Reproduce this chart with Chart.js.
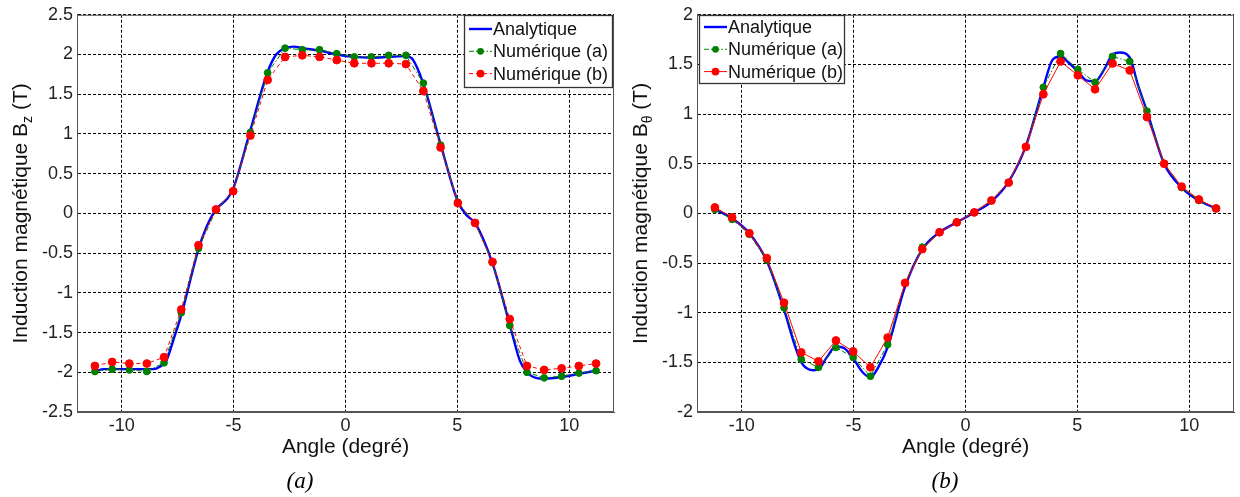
<!DOCTYPE html>
<html lang="fr">
<head>
<meta charset="utf-8">
<title>Induction magnétique</title>
<script src="https://cdn.jsdelivr.net/npm/chart.js@4.4.1/dist/chart.umd.min.js"></script>
<style>
  body { margin: 0; background: #fff; }
  #page { position: relative; width: 1240px; height: 497px; }
  canvas { position: absolute; top: 0; }
  .sous-titre {
    position: absolute; top: 467px; width: 60px; text-align: center;
    font: italic 23px "Liberation Serif", "Times New Roman", serif;
    line-height: 28px; color: #000;
  }
</style>
</head>
<body>
<div id="page">
  <canvas id="grapheA" width="620" height="497" style="left:0"></canvas>
  <canvas id="grapheB" width="620" height="497" style="left:620px"></canvas>
  <div class="sous-titre" style="left:270px">(a)</div>
  <div class="sous-titre" style="left:915px">(b)</div>
</div>
<script>
// angles des points numériques (degré)
const angles = [-11.2, -10.43, -9.66, -8.88, -8.11, -7.34, -6.57, -5.79, -5.02, -4.25, -3.48, -2.70, -1.93, -1.16, -0.39,
  0.39, 1.16, 1.93, 2.70, 3.48, 4.25, 5.02, 5.79, 6.57, 7.34, 8.11, 8.88, 9.66, 10.43, 11.2];
const xTicks = [-10, -5, 0, 5, 10];

// (a) composante Bz
const bzAnaAngles = [-11.2, -10.8, -8.6, -8.3, -8.0, -7.7, -7.34, -6.57, -6.2, -5.79, -5.3, -5.02, -4.25, -3.48, -3.1,
  -2.7, -2.3, -1.93, -1.16, -0.39, 0.39, 1.16, 1.93, 2.7, 3.0, 3.48, 4.25, 5.02, 5.4, 5.79, 6.57, 7.34, 7.8, 8.11, 8.5,
  8.88, 9.66, 10.43, 11.2];
const bzAna = [-1.99, -1.96, -1.96, -1.93, -1.85, -1.60, -1.28, -0.45, -0.16, 0.05, 0.18, 0.31, 1.05, 1.78, 2.00,
  2.08, 2.10, 2.08, 2.05, 2.00, 1.97, 1.96, 1.97, 1.98, 1.94, 1.63, 0.87, 0.15, -0.02, -0.12, -0.63, -1.40, -1.86, -2.00, -2.07,
  -2.08, -2.06, -2.02, -1.98];
const bzNumA = [-1.99, -1.96, -1.97, -1.99, -1.88, -1.25, -0.44, 0.04, 0.28, 1.02, 1.77, 2.08, 2.06, 2.06, 2.01,
  1.97, 1.97, 1.99, 1.99, 1.64, 0.86, 0.14, -0.12, -0.62, -1.41, -2.00, -2.07, -2.05, -2.01, -1.98];
const bzNumB = [-1.92, -1.87, -1.89, -1.89, -1.81, -1.21, -0.40, 0.05, 0.28, 0.98, 1.68, 1.97, 1.99, 1.97, 1.93,
  1.89, 1.89, 1.89, 1.88, 1.54, 0.83, 0.13, -0.12, -0.61, -1.33, -1.92, -1.97, -1.95, -1.92, -1.89];
const yTicksA = [-2.5, -2, -1.5, -1, -0.5, 0, 0.5, 1, 1.5, 2, 2.5];

// (b) composante Btheta
const btAnaAngles = [-11.2, -10.43, -9.66, -8.88, -8.11, -7.6, -7.34, -6.8, -6.57, -6.2, -5.8, -5.4, -5.02, -4.6, -4.25,
  -3.9, -3.48, -2.72, -1.93, -1.16, -0.39, 0.39, 1.16, 1.93, 2.70, 3.48, 3.9, 4.25, 4.6, 5.02, 5.4, 5.79, 6.2, 6.57, 6.9,
  7.34, 7.7, 8.11, 8.88, 9.66, 10.43, 11.2];
const btAna = [0.04, -0.05, -0.20, -0.48, -0.97, -1.35, -1.50, -1.58, -1.57, -1.45, -1.34, -1.36, -1.46, -1.60, -1.65,
  -1.55, -1.35, -0.75, -0.36, -0.19, -0.09, 0.01, 0.12, 0.32, 0.68, 1.27, 1.55, 1.58, 1.52, 1.43, 1.34, 1.33, 1.45, 1.60, 1.62,
  1.57, 1.30, 1.03, 0.50, 0.26, 0.13, 0.05];
const btNumA = [0.04, -0.06, -0.21, -0.47, -0.95, -1.47, -1.55, -1.35, -1.45, -1.64, -1.32, -0.70, -0.34, -0.19, -0.09,
  0.01, 0.13, 0.31, 0.67, 1.27, 1.61, 1.45, 1.32, 1.58, 1.53, 1.03, 0.50, 0.26, 0.13, 0.05];
const btNumB = [0.06, -0.04, -0.20, -0.45, -0.90, -1.40, -1.49, -1.28, -1.39, -1.55, -1.25, -0.70, -0.36, -0.19, -0.09,
  0.01, 0.13, 0.31, 0.67, 1.20, 1.53, 1.39, 1.25, 1.51, 1.44, 0.97, 0.50, 0.27, 0.14, 0.05];
const yTicksB = [-2, -1.5, -1, -0.5, 0, 0.5, 1, 1.5, 2];

const POLICE = '"Liberation Sans", Arial, sans-serif';
const paires = (xs, ys) => xs.map((x, i) => ({ x: x, y: ys[i] }));

// cadre, titres d'axes (avec indice) et légende dans la zone du tracé
const cadre = {
  id: 'cadre',
  afterDraw(chart, args, opts) {
    const ctx = chart.ctx;
    const a = chart.chartArea;
    ctx.save();
    ctx.strokeStyle = '#555';
    ctx.lineWidth = 1;
    ctx.strokeRect(a.left + 0.5, a.top + 0.5, a.width - 1, a.height - 1);

    ctx.fillStyle = '#111';
    ctx.font = '21px ' + POLICE;
    ctx.textAlign = 'center';
    ctx.textBaseline = 'alphabetic';
    ctx.fillText('Angle (degré)', (a.left + a.right) / 2, 453);

    // titre vertical : Induction magnétique B_x (T)
    const debut = 'Induction magnétique B';
    const fin = ' (T)';
    ctx.font = '21px ' + POLICE;
    const l1 = ctx.measureText(debut).width;
    const l3 = ctx.measureText(fin).width;
    ctx.font = '14px ' + POLICE;
    const l2 = ctx.measureText(opts.indice).width;
    ctx.translate(27, (a.top + a.bottom) / 2);
    ctx.rotate(-Math.PI / 2);
    ctx.textAlign = 'left';
    let x = -(l1 + l2 + l3) / 2;
    ctx.font = '21px ' + POLICE;
    ctx.fillText(debut, x, 0);
    x += l1;
    ctx.font = '14px ' + POLICE;
    ctx.fillText(opts.indice, x, 5);
    x += l2;
    ctx.font = '21px ' + POLICE;
    ctx.fillText(fin, x, 0);
    ctx.restore();

    // légende
    const L = opts.legende;
    ctx.save();
    ctx.fillStyle = '#fff';
    ctx.fillRect(L.x, L.y, L.w, L.h);
    ctx.strokeStyle = '#333';
    ctx.lineWidth = 1.3;
    ctx.strokeRect(L.x + 0.5, L.y + 0.5, L.w, L.h);
    ctx.font = '18px ' + POLICE;
    ctx.textBaseline = 'middle';
    ctx.textAlign = 'left';
    chart.data.datasets.forEach((ds, i) => {
      const y = L.y + L.pas0 + i * 22.3;
      ctx.strokeStyle = ds.borderColor;
      ctx.lineWidth = ds.borderWidth;
      ctx.setLineDash(ds.borderDash || []);
      ctx.beginPath();
      ctx.moveTo(L.x + 5, y);
      ctx.lineTo(L.x + 28, y);
      ctx.stroke();
      ctx.setLineDash([]);
      if (ds.pointRadius > 0) {
        ctx.fillStyle = ds.pointBackgroundColor;
        ctx.beginPath();
        ctx.arc(L.x + 16.5, y, ds.pointRadius, 0, Math.PI * 2);
        ctx.fill();
      }
      ctx.fillStyle = '#111';
      ctx.fillText(ds.label, L.x + 29, y + 1);
    });
    ctx.restore();
  }
};

function creerGraphe(id, anaX, anaY, numA, numB, yTicks, indice, legende, rougeTirets) {
  new Chart(document.getElementById(id), {
    type: 'scatter',
    data: {
      datasets: [
        {
          label: 'Analytique',
          data: paires(anaX, anaY),
          showLine: true,
          borderColor: '#0000ff',
          borderWidth: 2.4,
          cubicInterpolationMode: 'monotone',
          pointRadius: 0,
          order: 3
        },
        {
          label: 'Numérique (a)',
          data: paires(angles, numA),
          showLine: true,
          borderColor: '#008000',
          borderWidth: 1,
          borderDash: [5, 2, 1.5, 2],
          pointRadius: 3.4,
          pointBackgroundColor: '#008000',
          pointBorderColor: '#008000',
          order: 2
        },
        {
          label: 'Numérique (b)',
          data: paires(angles, numB),
          showLine: true,
          borderColor: '#ff0000',
          borderWidth: 1,
          borderDash: rougeTirets ? [4, 3] : [],
          pointRadius: 3.9,
          pointBackgroundColor: '#ff0000',
          pointBorderColor: '#ff0000',
          order: 1
        }
      ]
    },
    options: {
      responsive: false,
      animation: false,
      layout: { padding: { left: 0, top: 13, right: 6, bottom: 0 } },
      plugins: {
        legend: { display: false },
        tooltip: { enabled: false },
        cadre: { indice: indice, legende: legende }
      },
      scales: {
        x: {
          type: 'linear',
          min: -12,
          max: 12,
          afterBuildTicks: s => { s.ticks = xTicks.map(v => ({ value: v })); },
          afterFit: s => { s.height = 85; },
          grid: { color: '#000', lineWidth: 1, drawTicks: false },
          border: { display: true, color: '#555', dash: [3, 2] },
          ticks: {
            padding: 3,
            color: '#222',
            font: { family: POLICE, size: 18 },
            callback: v => String(v)
          }
        },
        y: {
          min: yTicks[0],
          max: yTicks[yTicks.length - 1],
          afterBuildTicks: s => { s.ticks = yTicks.map(v => ({ value: v })); },
          afterFit: s => { s.width = 77; },
          grid: { color: '#000', lineWidth: 1, drawTicks: false },
          border: { display: true, color: '#555', dash: [3, 2] },
          ticks: {
            padding: 4,
            color: '#222',
            font: { family: POLICE, size: 18 },
            callback: v => String(v)
          }
        }
      }
    },
    plugins: [cadre]
  });
}

creerGraphe('grapheA', bzAnaAngles, bzAna, bzNumA, bzNumB, yTicksA, 'z',
  { x: 464, y: 15, w: 148, h: 72, pas0: 14 }, true);
creerGraphe('grapheB', btAnaAngles, btAna, btNumA, btNumB, yTicksB, 'θ',
  { x: 79, y: 15, w: 145, h: 68, pas0: 12 }, false);
</script>
</body>
</html>
